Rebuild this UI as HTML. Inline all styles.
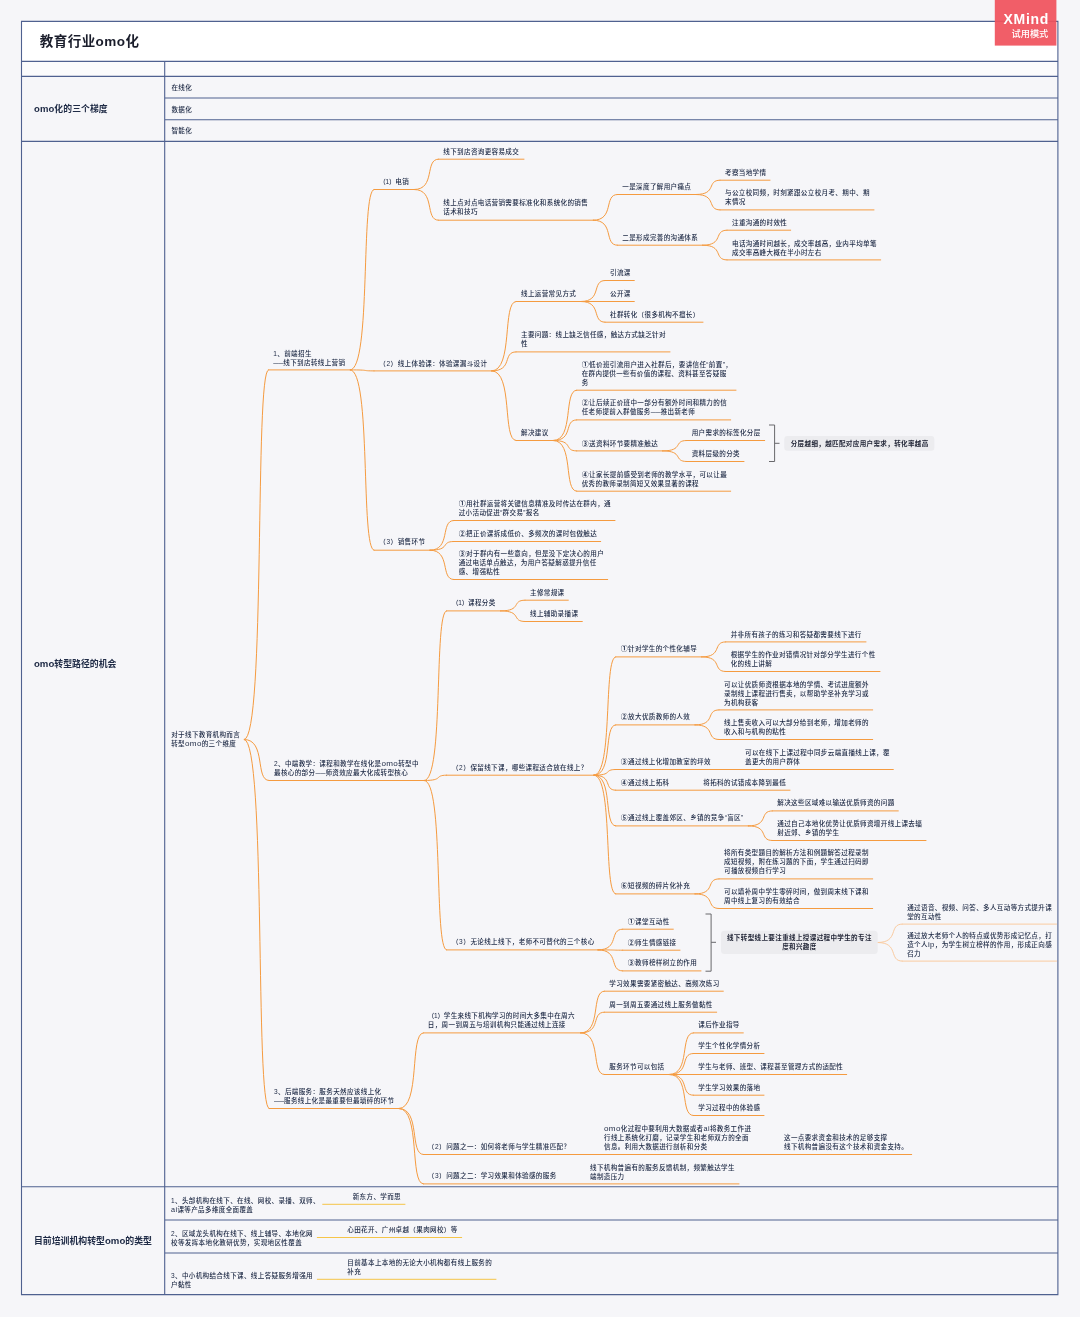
<!DOCTYPE html>
<html lang="zh-CN"><head><meta charset="utf-8"><title>教育行业omo化</title>
<style>html,body{margin:0;padding:0;background:#F6F6F9}svg{display:block;will-change:transform}text{white-space:pre}</style></head>
<body>
<svg width="1080" height="1317" viewBox="0 0 1080 1317" font-family="'Liberation Sans', 'Noto Sans CJK SC', sans-serif" font-size="6.55" letter-spacing="0.35" font-weight="500" fill="#202C47">
<rect width="1080" height="1317" fill="#F6F6F9"/>
<rect x="21.5" y="21.4" width="1036.4" height="40.0" fill="#FFFFFF"/>
<rect x="21.5" y="61.4" width="1036.4" height="15.0" fill="#FBFBFC"/>
<path fill="none" stroke="#4F6190" stroke-width="1.1" d="M21.5 21.4H1057.9V1294.6H21.5ZM21.5 61.4H1057.9M21.5 76.4H1057.9M21.5 141.4H1057.9M21.5 1186.7H1057.9M164.7 61.4V1294.6M164.7 98.0H1057.9M164.7 119.7H1057.9M164.7 1220.0H1057.9M164.7 1253.0H1057.9"/>
<path fill="none" stroke="#F59B40" stroke-width="1" stroke-linecap="round" d="M268.3 369.9H350.3M269.0 780.5H424.3M269.0 1108.5H399.0M244.3 739.5C265.9 739.5 254.4 369.9 268.3 369.9M244.3 739.5C266.5 739.5 254.7 780.5 269.0 780.5M244.3 739.5C266.5 739.5 254.7 1108.5 269.0 1108.5M374.0 189.5H414.3M374.0 370.9H491.7M374.0 550.2H430.0M350.3 369.9C371.6 369.9 360.3 189.5 374.0 189.5M350.3 369.9C371.6 369.9 360.3 370.9 374.0 370.9M350.3 369.9C371.6 369.9 360.3 550.2 374.0 550.2M438.3 159.2H524.0M438.3 220.2H593.3M414.3 189.5C435.9 189.5 424.4 159.2 438.3 159.2M414.3 189.5C435.9 189.5 424.4 220.2 438.3 220.2M617.3 194.5H696.0M617.3 245.2H702.7M593.3 220.2C614.9 220.2 603.4 194.5 617.3 194.5M593.3 220.2C614.9 220.2 603.4 245.2 617.3 245.2M720.0 180.2H770.0M720.0 209.9H874.0M696.0 194.5C717.6 194.5 706.1 180.2 720.0 180.2M696.0 194.5C717.6 194.5 706.1 209.9 720.0 209.9M727.0 230.2H790.7M727.0 259.9H880.7M702.7 245.2C724.6 245.2 712.9 230.2 727.0 230.2M702.7 245.2C724.6 245.2 712.9 259.9 727.0 259.9M516.0 301.5H581.0M516.0 351.9H670.0M516.0 440.5H553.3M491.7 370.9C513.6 370.9 501.9 301.5 516.0 301.5M491.7 370.9C513.6 370.9 501.9 351.9 516.0 351.9M491.7 370.9C513.6 370.9 501.9 440.5 516.0 440.5M605.0 280.5H634.3M605.0 301.5H634.3M605.0 322.2H703.0M581.0 301.5C602.6 301.5 591.1 280.5 605.0 280.5M581.0 301.5H605.0M581.0 301.5C602.6 301.5 591.1 322.2 605.0 322.2M576.7 390.2H736.0M576.7 419.9H730.7M576.7 450.9H662.7M576.7 491.2H730.7M553.3 440.5C574.4 440.5 563.1 390.2 576.7 390.2M553.3 440.5C574.4 440.5 563.1 419.9 576.7 419.9M553.3 440.5C574.4 440.5 563.1 450.9 576.7 450.9M553.3 440.5C574.4 440.5 563.1 491.2 576.7 491.2M686.7 440.5H764.7M686.7 461.5H744.0M662.7 450.9C684.3 450.9 672.8 440.5 686.7 440.5M662.7 450.9C684.3 450.9 672.8 461.5 686.7 461.5M453.7 520.5H615.0M453.7 541.5H600.7M453.7 579.5H607.7M430.0 550.2C451.3 550.2 440.0 520.5 453.7 520.5M430.0 550.2C451.3 550.2 440.0 541.5 453.7 541.5M430.0 550.2C451.3 550.2 440.0 579.5 453.7 579.5M446.5 610.9H500.7M446.5 775.2H594.0M446.5 949.9H598.0M424.3 780.5C444.3 780.5 433.6 610.9 446.5 610.9M424.3 780.5C444.3 780.5 433.6 775.2 446.5 775.2M424.3 780.5C444.3 780.5 433.6 949.9 446.5 949.9M525.0 600.2H568.3M525.0 621.5H582.3M500.7 610.9C522.6 610.9 510.9 600.2 525.0 600.2M500.7 610.9C522.6 610.9 510.9 621.5 525.0 621.5M615.7 656.9H701.7M615.7 724.9H695.0M615.7 769.5H893.3M615.7 790.2H790.0M615.7 825.9H748.3M615.7 893.9H695.0M594.0 775.2C613.5 775.2 603.1 656.9 615.7 656.9M594.0 775.2C613.5 775.2 603.1 724.9 615.7 724.9M594.0 775.2C613.5 775.2 603.1 769.5 615.7 769.5M594.0 775.2C613.5 775.2 603.1 790.2 615.7 790.2M594.0 775.2C613.5 775.2 603.1 825.9 615.7 825.9M594.0 775.2C613.5 775.2 603.1 893.9 615.7 893.9M725.7 641.9H866.0M725.7 671.5H880.0M701.7 656.9C723.3 656.9 711.8 641.9 725.7 641.9M701.7 656.9C723.3 656.9 711.8 671.5 725.7 671.5M719.0 709.9H872.7M719.0 739.5H872.7M695.0 724.9C716.6 724.9 705.1 709.9 719.0 709.9M695.0 724.9C716.6 724.9 705.1 739.5 719.0 739.5M772.3 810.9H898.3M772.3 840.5H926.0M748.3 825.9C769.9 825.9 758.4 810.9 772.3 810.9M748.3 825.9C769.9 825.9 758.4 840.5 772.3 840.5M719.0 878.9H872.7M719.0 908.5H872.7M695.0 893.9C716.6 893.9 705.1 878.9 719.0 878.9M695.0 893.9C716.6 893.9 705.1 908.5 719.0 908.5M622.7 929.2H673.3M622.7 950.2H680.0M622.7 970.9H701.0M598.0 949.9C620.2 949.9 608.4 929.2 622.7 929.2M598.0 949.9C620.2 949.9 608.4 950.2 622.7 950.2M598.0 949.9C620.2 949.9 608.4 970.9 622.7 970.9M423.3 1032.9H580.7M423.3 1154.5H911.7M423.3 1183.9H739.0M399.0 1108.5C420.9 1108.5 409.2 1032.9 423.3 1032.9M399.0 1108.5C420.9 1108.5 409.2 1154.5 423.3 1154.5M399.0 1108.5C420.9 1108.5 409.2 1183.9 423.3 1183.9M604.3 991.2H723.3M604.3 1012.2H716.7M604.3 1074.5H669.3M580.7 1032.9C601.9 1032.9 590.6 991.2 604.3 991.2M580.7 1032.9C601.9 1032.9 590.6 1012.2 604.3 1012.2M580.7 1032.9C601.9 1032.9 590.6 1074.5 604.3 1074.5M693.3 1032.9H743.3M693.3 1053.5H764.0M693.3 1074.5H846.7M693.3 1095.2H764.0M693.3 1115.5H764.0M669.3 1074.5C690.9 1074.5 679.4 1032.9 693.3 1032.9M669.3 1074.5C690.9 1074.5 679.4 1053.5 693.3 1053.5M669.3 1074.5H693.3M669.3 1074.5C690.9 1074.5 679.4 1095.2 693.3 1095.2M669.3 1074.5C690.9 1074.5 679.4 1115.5 693.3 1115.5"/>
<path fill="none" stroke="#FACBA0" stroke-width="1" stroke-linecap="round" d="M902.2 924.1H1056.5M902.2 961.1H1056.5M877.7 942.5C899.8 942.5 888.0 924.1 902.2 924.1M877.7 942.5C899.8 942.5 888.0 961.1 902.2 961.1"/>
<path fill="none" stroke="#F6C548" stroke-width="1" stroke-linecap="round" d="M322.7 1204.3H405.0M317.3 1237.5H461.7M317.3 1279.3H496.0"/>
<path fill="none" stroke="#68686C" stroke-width="1" stroke-linejoin="round" d="M769.0 425.0H774.6V461.5H769.0M774.6 443.3H779.5"/>
<rect x="784.3" y="436" width="150" height="14.7" rx="3" fill="#ECECEF"/>
<path fill="none" stroke="#68686C" stroke-width="1" stroke-linejoin="round" d="M705.5 914.0H711.1V971.2H705.5M711.1 942.3H716.0"/>
<rect x="721" y="930.7" width="156.7" height="23.3" rx="3.5" fill="#ECECEF"/>
<g opacity="0.999">
<text x="39.8" y="46.1" font-weight="700" fill="#1A1D2B" font-size="13.5" letter-spacing="0.45">教育行业<tspan font-size="13.50">omo</tspan>化</text>
<text x="34.0" y="112.3" font-weight="700" font-size="8.8" letter-spacing="0.1"><tspan font-size="9.50">omo</tspan>化的三个梯度</text>
<text x="34.0" y="666.7" font-weight="700" font-size="8.9" letter-spacing="0"><tspan font-size="9.61">omo</tspan>转型路径的机会</text>
<text x="34.0" y="1244.1" font-weight="700" font-size="8.9" letter-spacing="0">目前培训机构转型<tspan font-size="9.61">omo</tspan>的类型</text>
<text x="171.4" y="89.9">在线化</text>
<text x="171.4" y="111.6">数据化</text>
<text x="171.4" y="133.2">智能化</text>
<text x="171.2" y="737.1">对于线下教育机构而言</text>
<text x="171.2" y="746.1">转型<tspan font-size="8.07">omo</tspan>的三个维度</text>
<text x="273.3" y="355.7">1、前端招生</text>
<text x="273.3" y="364.7"><tspan letter-spacing="0" textLength="10.0" lengthAdjust="spacingAndGlyphs">——</tspan>线下到店转线上营销</text>
<text x="274.0" y="765.7">2、中端教学：课程和教学在线化是<tspan font-size="8.07">omo</tspan>转型中</text>
<text x="274.0" y="774.7">最核心的部分<tspan letter-spacing="0" textLength="10.0" lengthAdjust="spacingAndGlyphs">——</tspan>师资效应最大化成转型核心</text>
<text x="274.0" y="1094.1">3、后端服务：服务天然应该线上化</text>
<text x="274.0" y="1103.1"><tspan letter-spacing="0" textLength="10.0" lengthAdjust="spacingAndGlyphs">——</tspan>服务线上化是最重要但最琐碎的环节</text>
<text x="379.3" y="184.1"><tspan textLength="16.6" lengthAdjust="spacing">（1）</tspan>电销</text>
<text x="379.3" y="365.7"><tspan textLength="18.2" lengthAdjust="spacing">（2）</tspan>线上体验课：体验课漏斗设计</text>
<text x="379.3" y="544.4"><tspan textLength="18.2" lengthAdjust="spacing">（3）</tspan>销售环节</text>
<text x="443.3" y="153.7">线下到店咨询更容易成交</text>
<text x="443.3" y="205.4">线上点对点电话营销需要标准化和系统化的销售</text>
<text x="443.3" y="214.4">话术和技巧</text>
<text x="622.3" y="189.1">一是深度了解用户痛点</text>
<text x="622.3" y="239.7">二是形成完善的沟通体系</text>
<text x="725.0" y="174.7">考察当地学情</text>
<text x="725.0" y="195.4">与公立校同频，时刻紧跟公立校月考、期中、期</text>
<text x="725.0" y="204.4">末情况</text>
<text x="732.0" y="225.1">注重沟通的时效性</text>
<text x="732.0" y="245.7">电话沟通时间越长，成交率越高，业内平均单笔</text>
<text x="732.0" y="254.7">成交率高峰大概在半小时左右</text>
<text x="521.0" y="296.1">线上运营常见方式</text>
<text x="521.0" y="337.4">主要问题：线上缺乏信任感，触达方式缺乏针对</text>
<text x="521.0" y="346.4">性</text>
<text x="521.0" y="435.1">解决建议</text>
<text x="610.0" y="275.1">引流课</text>
<text x="610.0" y="296.1">公开课</text>
<text x="610.0" y="316.7">社群转化（很多机构不擅长）</text>
<text x="581.7" y="366.7"><tspan font-weight="700" font-size="7" letter-spacing="0.4">①</tspan>低价班引流用户进入社群后，要讲信任“前置”，</text>
<text x="581.7" y="375.7">在群内提供一些有价值的课程、资料甚至答疑服</text>
<text x="581.7" y="384.7">务</text>
<text x="581.7" y="405.1"><tspan font-weight="700" font-size="7" letter-spacing="0.4">②</tspan>让后续正价班中一部分有额外时间和精力的信</text>
<text x="581.7" y="414.1">任老师提前入群做服务<tspan letter-spacing="0" textLength="10.0" lengthAdjust="spacingAndGlyphs">——</tspan>推出新老师</text>
<text x="581.7" y="445.7"><tspan font-weight="700" font-size="7" letter-spacing="0.4">③</tspan>送资料环节要精准触达</text>
<text x="581.7" y="476.7"><tspan font-weight="700" font-size="7" letter-spacing="0.4">④</tspan>让家长提前感受到老师的教学水平，可以让最</text>
<text x="581.7" y="485.7">优秀的教师录制简短又效果显著的课程</text>
<text x="691.7" y="435.1">用户需求的标签化分层</text>
<text x="691.7" y="456.1">资料层级的分类</text>
<text x="790.7" y="445.7" font-weight="700" fill="#1E2233">分层越细，越匹配对应用户需求，转化率越高</text>
<text x="458.7" y="506.4"><tspan font-weight="700" font-size="7" letter-spacing="0.4">①</tspan>用社群运营将关键信息精准及时传达在群内，通</text>
<text x="458.7" y="515.4">过小活动促进“群交易”报名</text>
<text x="458.7" y="535.7"><tspan font-weight="700" font-size="7" letter-spacing="0.4">②</tspan>把正价课拆成低价、多频次的课时包做触达</text>
<text x="458.7" y="556.1"><tspan font-weight="700" font-size="7" letter-spacing="0.4">③</tspan>对于群内有一些意向，但是没下定决心的用户</text>
<text x="458.7" y="565.1">通过电话单点触达，为用户答疑解惑提升信任</text>
<text x="458.7" y="574.1">感、增强粘性</text>
<text x="452.0" y="605.4"><tspan textLength="16.6" lengthAdjust="spacing">（1）</tspan>课程分类</text>
<text x="452.0" y="769.7"><tspan textLength="18.2" lengthAdjust="spacing">（2）</tspan>保留线下课，哪些课程适合放在线上？</text>
<text x="452.0" y="944.4"><tspan textLength="18.2" lengthAdjust="spacing">（3）</tspan>无论线上线下，老师不可替代的三个核心</text>
<text x="530.0" y="595.1">主修常规课</text>
<text x="530.0" y="615.7">线上辅助录播课</text>
<text x="620.7" y="651.4"><tspan font-weight="700" font-size="7" letter-spacing="0.4">①</tspan>针对学生的个性化辅导</text>
<text x="620.7" y="719.4"><tspan font-weight="700" font-size="7" letter-spacing="0.4">②</tspan>放大优质教师的人效</text>
<text x="620.7" y="764.1"><tspan font-weight="700" font-size="7" letter-spacing="0.4">③</tspan>通过线上化增加教室的坪效</text>
<text x="620.7" y="784.7"><tspan font-weight="700" font-size="7" letter-spacing="0.4">④</tspan>通过线上拓科</text>
<text x="620.7" y="820.4"><tspan font-weight="700" font-size="7" letter-spacing="0.4">⑤</tspan>通过线上覆盖郊区、乡镇的竞争“盲区”</text>
<text x="620.7" y="888.4"><tspan font-weight="700" font-size="7" letter-spacing="0.4">⑥</tspan>短视频的碎片化补充</text>
<text x="730.7" y="636.9">并非所有孩子的练习和答疑都需要线下进行</text>
<text x="730.7" y="657.1">根据学生的作业对错情况针对部分学生进行个性</text>
<text x="730.7" y="666.1">化的线上讲解</text>
<text x="724.0" y="686.7">可以让优质师资根据本地的学情、考试进度额外</text>
<text x="724.0" y="695.7">录制线上课程进行售卖，以帮助学圣补充学习或</text>
<text x="724.0" y="704.7">为机构获客</text>
<text x="724.0" y="725.4">线上售卖收入可以大部分给到老师，增加老师的</text>
<text x="724.0" y="734.4">收入和与机构的粘性</text>
<text x="745.0" y="755.1">可以在线下上课过程中同步云端直播线上课，覆</text>
<text x="745.0" y="764.1">盖更大的用户群体</text>
<text x="703.3" y="784.7">将拓科的试错成本降到最低</text>
<text x="777.3" y="805.4">解决这些区域难以输送优质师资的问题</text>
<text x="777.3" y="826.1">通过自己本地化优势让优质师资增开线上课去辐</text>
<text x="777.3" y="835.1">射近郊、乡镇的学生</text>
<text x="724.0" y="855.4">将所有类型题目的解析方法和例题解答过程录制</text>
<text x="724.0" y="864.4">成短视频，附在练习题的下面，学生通过扫码即</text>
<text x="724.0" y="873.4">可播放视频自行学习</text>
<text x="724.0" y="894.1">可以填补周中学生零碎时间，做到周末线下课和</text>
<text x="724.0" y="903.1">周中线上复习的有效结合</text>
<text x="627.7" y="924.1"><tspan font-weight="700" font-size="7" letter-spacing="0.4">①</tspan>课堂互动性</text>
<text x="627.7" y="944.7"><tspan font-weight="700" font-size="7" letter-spacing="0.4">②</tspan>师生情感链接</text>
<text x="627.7" y="965.1"><tspan font-weight="700" font-size="7" letter-spacing="0.4">③</tspan>教师榜样树立的作用</text>
<text x="799.4" y="940.4" font-weight="700" text-anchor="middle" fill="#1E2233">线下转型线上要注重线上授课过程中学生的专注</text>
<text x="799.4" y="949.4" font-weight="700" text-anchor="middle" fill="#1E2233">度和兴趣度</text>
<text x="907.2" y="910.2">通过语音、视频、问答、多人互动等方式提升课</text>
<text x="907.2" y="919.2">堂的互动性</text>
<text x="907.2" y="938.2">通过放大老师个人的特点或优势形成记忆点，打</text>
<text x="907.2" y="947.2">造个人<tspan textLength="6.9" lengthAdjust="spacingAndGlyphs">ip</tspan>，为学生树立榜样的作用，形成正向感</text>
<text x="907.2" y="956.2">召力</text>
<text x="427.8" y="1018.4"><tspan textLength="16.6" lengthAdjust="spacing">（1）</tspan>学生来线下机构学习的时间大多集中在周六</text>
<text x="427.8" y="1027.4">日，周一到周五与培训机构只能通过线上连接</text>
<text x="427.8" y="1149.1"><tspan textLength="18.2" lengthAdjust="spacing">（2）</tspan>问题之一：如何将老师与学生精准匹配？</text>
<text x="427.8" y="1178.4"><tspan textLength="18.2" lengthAdjust="spacing">（3）</tspan>问题之二：学习效果和体验感的服务</text>
<text x="609.3" y="985.7">学习效果需要紧密触达、高频次练习</text>
<text x="609.3" y="1006.7">周一到周五要通过线上服务做黏性</text>
<text x="609.3" y="1069.1">服务环节可以包括</text>
<text x="698.3" y="1027.4">课后作业指导</text>
<text x="698.3" y="1048.1">学生个性化学情分析</text>
<text x="698.3" y="1069.1">学生与老师、班型、课程甚至管理方式的适配性</text>
<text x="698.3" y="1089.7">学生学习效果的落地</text>
<text x="698.3" y="1110.1">学习过程中的体验感</text>
<text x="604.0" y="1130.7"><tspan font-size="8.07">omo</tspan>化过程中要利用大数据或者<tspan textLength="6.4" lengthAdjust="spacingAndGlyphs">ai</tspan>将教务工作进</text>
<text x="604.0" y="1139.7">行线上系统化打磨，记录学生和老师双方的全面</text>
<text x="604.0" y="1148.7">信息。利用大数据进行剖析和分类</text>
<text x="784.0" y="1139.7">这一点要求资金和技术的足够支撑</text>
<text x="784.0" y="1148.7">线下机构普遍没有这个技术和资金支持。</text>
<text x="590.0" y="1170.1">线下机构普遍有的服务反馈机制，频繁触达学生</text>
<text x="590.0" y="1179.1">端制造压力</text>
<text x="171.0" y="1202.7">1、头部机构在线下、在线、网校、录播、双师、</text>
<text x="171.0" y="1211.7"><tspan textLength="6.4" lengthAdjust="spacingAndGlyphs">ai</tspan>课等产品多维度全面覆盖</text>
<text x="171.0" y="1235.7">2、区域龙头机构在线下、线上辅导、本地化网</text>
<text x="171.0" y="1244.7">校等发挥本地化教研优势，实现地区性覆盖</text>
<text x="171.0" y="1278.1">3、中小机构结合线下课、线上答疑服务增强用</text>
<text x="171.0" y="1287.1">户黏性</text>
<text x="352.7" y="1199.1">新东方、学而思</text>
<text x="347.3" y="1232.4">心田花开、广州卓越（果肉网校）等</text>
<text x="347.3" y="1265.4">目前基本上本地的无论大小机构都有线上服务的</text>
<text x="347.3" y="1274.4">补充</text>
</g>
<rect x="994.8" y="0" width="61.6" height="45.6" fill="#F0525C" fill-opacity="0.93"/>
<text x="1048.3" y="23.9" text-anchor="end" font-size="14" letter-spacing="0" font-weight="700" fill="#FFFFFF" textLength="44.8" lengthAdjust="spacing">XMind</text>
<text x="1048.3" y="36.8" text-anchor="end" font-size="9.2" letter-spacing="0" fill="#FFFFFF">试用模式</text>
</svg>
</body></html>
